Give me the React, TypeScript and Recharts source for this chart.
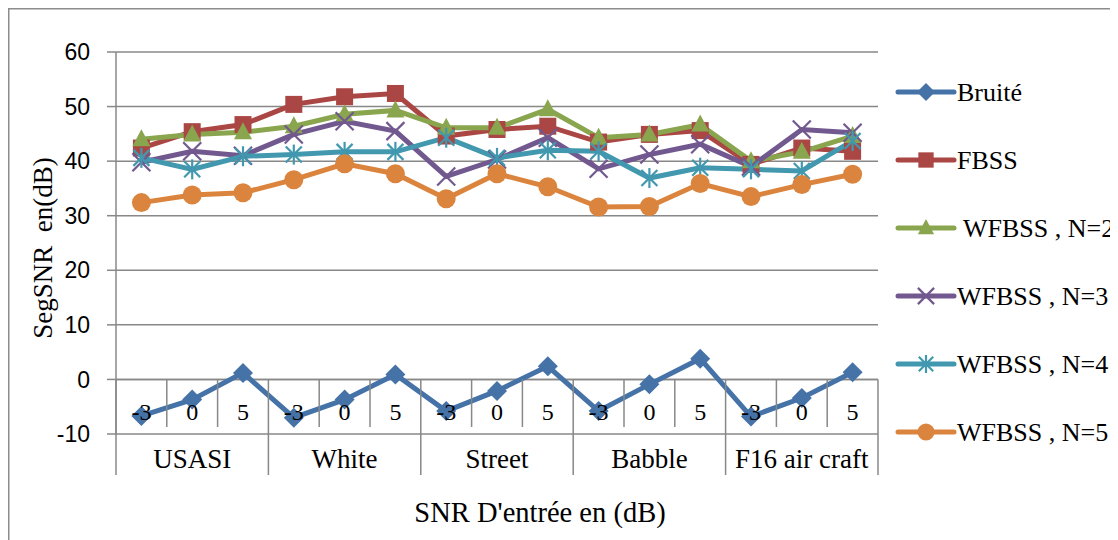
import React from 'react';
import { LineChart, Line, XAxis, YAxis, CartesianGrid, ReferenceLine } from 'recharts';

const categories = ['USASI', 'White', 'Street', 'Babble', 'F16 air craft'];
const snrLevels = ['-3', '0', '5'];
const bruite = [-6.7, -3.7, 1.2, -7.0, -3.7, 0.9, -5.8, -2.1, 2.4, -5.8, -0.9, 3.8, -6.8, -3.4, 1.3];
const fbss = [42.4, 45.4, 46.7, 50.4, 51.8, 52.4, 44.6, 45.8, 46.4, 43.5, 44.9, 45.6, 39.4, 42.4, 41.8];
const wfbss2 = [44.0, 44.9, 45.3, 46.4, 48.6, 49.3, 46.1, 46.1, 49.5, 44.3, 44.9, 46.7, 40.0, 41.7, 44.6];
const wfbss3 = [39.8, 41.8, 41.0, 44.9, 47.3, 45.5, 37.2, 40.3, 44.3, 38.6, 41.2, 43.1, 39.0, 45.8, 45.2];
const wfbss4 = [40.6, 38.5, 40.9, 41.2, 41.7, 41.7, 44.3, 40.6, 42.0, 41.8, 36.9, 38.8, 38.5, 38.2, 43.7];
const wfbss5 = [32.4, 33.8, 34.2, 36.6, 39.5, 37.7, 33.1, 37.7, 35.3, 31.6, 31.7, 35.9, 33.5, 35.7, 37.6];
const yTicks = [-10, 0, 10, 20, 30, 40, 50, 60];

const seriesDefs = [
  { key: 'bruite', name: 'Bruité', color: '#4572A7', shape: 'diamond' },
  { key: 'fbss', name: 'FBSS', color: '#AA4643', shape: 'square' },
  { key: 'wfbss2', name: ' WFBSS , N=2', color: '#89A54E', shape: 'triangle' },
  { key: 'wfbss3', name: 'WFBSS , N=3', color: '#71588F', shape: 'x' },
  { key: 'wfbss4', name: 'WFBSS , N=4', color: '#4198AF', shape: 'star' },
  { key: 'wfbss5', name: 'WFBSS , N=5', color: '#DB843D', shape: 'circle' },
];

const data = bruite.map((_, i) => ({
  i,
  snr: snrLevels[i % 3],
  group: categories[Math.floor(i / 3)],
  bruite: bruite[i],
  fbss: fbss[i],
  wfbss2: wfbss2[i],
  wfbss3: wfbss3[i],
  wfbss4: wfbss4[i],
  wfbss5: wfbss5[i],
}));

const W = 1110;
const H = 532;
const M_TOP = 44;
const M_RIGHT = 240;
const Y_W = 108;
const X_H = 106;
const PLOT_L = Y_W;
const PLOT_R = W - M_RIGHT;
const PLOT_T = M_TOP;
const PLOT_B = H - X_H;
const BAND = (PLOT_R - PLOT_L) / data.length;
const Y_MIN = -10;
const Y_MAX = 60;
const ZERO_Y = PLOT_T + ((Y_MAX - 0) / (Y_MAX - Y_MIN)) * (PLOT_B - PLOT_T);
const GRAY = '#888888';
const SERIF = '"Liberation Serif", "Times New Roman", serif';
const SANS = '"Liberation Sans", Arial, sans-serif';

function Marker({ shape, cx, cy, color, scale = 1 }: any) {
  const s = scale;
  switch (shape) {
    case 'diamond':
      return <polygon points={`${cx},${cy - 10 * s} ${cx + 10 * s},${cy} ${cx},${cy + 10 * s} ${cx - 10 * s},${cy}`} fill={color} />;
    case 'square':
      return <rect x={cx - 8.5 * s} y={cy - 8.5 * s} width={17 * s} height={17 * s} fill={color} />;
    case 'triangle':
      return <polygon points={`${cx},${cy - 10 * s} ${cx + 9 * s},${cy + 7 * s} ${cx - 9 * s},${cy + 7 * s}`} fill={color} />;
    case 'x':
      return (
        <g stroke={color} strokeWidth={2.2}>
          <line x1={cx - 9 * s} y1={cy - 9 * s} x2={cx + 9 * s} y2={cy + 9 * s} />
          <line x1={cx - 9 * s} y1={cy + 9 * s} x2={cx + 9 * s} y2={cy - 9 * s} />
        </g>
      );
    case 'star':
      return (
        <g stroke={color} strokeWidth={2.2}>
          <line x1={cx - 8 * s} y1={cy - 8 * s} x2={cx + 8 * s} y2={cy + 8 * s} />
          <line x1={cx - 8 * s} y1={cy + 8 * s} x2={cx + 8 * s} y2={cy - 8 * s} />
          <line x1={cx} y1={cy - 10 * s} x2={cx} y2={cy + 10 * s} />
        </g>
      );
    default:
      return <circle cx={cx} cy={cy} r={9.5 * s} fill={color} />;
  }
}

function CategoryTick(props: any) {
  const { x, payload } = props;
  const idx = payload.value as number;
  const row = data[idx];
  if (!row) return null;
  const left = x - BAND / 2;
  const right = x + BAND / 2;
  const isGroupStart = idx % 3 === 0;
  const isLast = idx === data.length - 1;
  return (
    <g>
      <line x1={left} y1={ZERO_Y} x2={left} y2={isGroupStart ? PLOT_B + 41 : PLOT_B - 7} stroke={GRAY} strokeWidth={1.5} />
      {isLast && <line x1={right} y1={ZERO_Y} x2={right} y2={PLOT_B + 41} stroke={GRAY} strokeWidth={1.5} />}
      <text x={x} y={PLOT_B - 14} textAnchor="middle" fontFamily={SERIF} fontSize={24} fill="#000">
        {row.snr}
      </text>
      {idx % 3 === 1 && (
        <text x={x} y={PLOT_B + 34} textAnchor="middle" fontFamily={SERIF} fontSize={27} fill="#000">
          {row.group}
        </text>
      )}
    </g>
  );
}

export default function App() {
  return (
    <div style={{ position: 'relative', width: W, height: H }}>
      <LineChart width={W} height={H} data={data} margin={{ top: M_TOP, right: M_RIGHT, bottom: 0, left: 0 }}>
        <CartesianGrid vertical={false} stroke={GRAY} strokeWidth={1.5} />
        <XAxis
          dataKey="i"
          type="number"
          domain={[-0.5, 14.5]}
          ticks={data.map((d) => d.i)}
          interval={0}
          height={X_H}
          axisLine={false}
          tickLine={false}
          tick={<CategoryTick />}
        />
        <YAxis
          domain={[Y_MIN, Y_MAX]}
          ticks={yTicks}
          width={Y_W}
          axisLine={{ stroke: GRAY, strokeWidth: 1.5 }}
          tickLine={{ stroke: GRAY, strokeWidth: 1.5 }}
          tickSize={9}
          tickMargin={17}
          tick={{ fontFamily: SANS, fontSize: 23, fill: '#000' }}
        />
        <ReferenceLine y={0} stroke={GRAY} strokeWidth={1.5} />
        {seriesDefs.map((s) => (
          <Line
            key={s.key}
            dataKey={s.key}
            name={s.name}
            stroke={s.color}
            strokeWidth={5}
            isAnimationActive={false}
            dot={(p: any) => <Marker key={`${s.key}-${p.index}`} shape={s.shape} cx={p.cx} cy={p.cy} color={s.color} />}
            activeDot={false}
          />
        ))}
      </LineChart>
      <svg width={W} height={H} style={{ position: 'absolute', left: 0, top: 0, pointerEvents: 'none' }}>
        <path d={`M0.75,${H} V0.75 H${W}`} fill="none" stroke="#8c8c8c" strokeWidth={1.5} />
        <text transform={`translate(44, 240) rotate(-90)`} textAnchor="middle" fontFamily={SERIF} fontSize={27} fill="#000" style={{ whiteSpace: 'pre' }}>
          {'SegSNR  en(dB)'}
        </text>
        <text x={532} y={514} textAnchor="middle" fontFamily={SERIF} fontSize={28.5} fill="#000">
          {"SNR D'entrée en (dB)"}
        </text>
        <g transform="translate(872, 52)">
          {seriesDefs.map((s, k) => {
            const cy = 32 + k * 68;
            return (
              <g key={s.key}>
                <line x1={18} y1={cy} x2={74} y2={cy} stroke={s.color} strokeWidth={5} strokeLinecap="round" />
                <Marker shape={s.shape} cx={46} cy={cy} color={s.color} scale={0.9} />
                <text x={77} y={cy + 9} fontFamily={SERIF} fontSize={26} fill="#000" style={{ whiteSpace: 'pre' }}>
                  {s.name}
                </text>
              </g>
            );
          })}
        </g>
      </svg>
    </div>
  );
}
